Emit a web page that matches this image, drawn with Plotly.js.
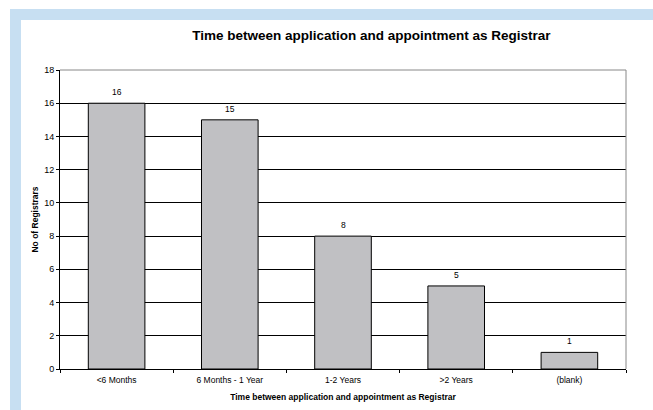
<!DOCTYPE html>
<html><head><meta charset="utf-8">
<script src="https://cdn.plot.ly/plotly-3.0.1.min.js"></script>
<style>
html,body{margin:0;padding:0;background:#fff;width:653px;height:410px;overflow:hidden;}
#band{position:absolute;left:10px;top:9px;width:643px;height:401px;background:#C7DFF2;}
#chart{position:absolute;left:21px;top:20px;width:632px;height:390px;background:#fff;}
</style></head>
<body>
<div id="band"></div>
<div id="chart"></div>
<script>
var categories = ["<6 Months", "6 Months - 1 Year", "1-2 Years", ">2 Years", "(blank)"];
var counts = [16, 15, 8, 5, 1];
var yTicks = [0, 2, 4, 6, 8, 10, 12, 14, 16, 18];

var font = "Liberation Sans, Arial, sans-serif";
var trace = {
  type: "bar",
  x: categories,
  y: counts,
  width: 0.5,
  marker: {color: "#C0C0C3", line: {color: "#000", width: 1}},
  hoverinfo: "none"
};
var labels = categories.map(function (c, i) {
  return {x: c, y: counts[i], xref: "x", yref: "y", text: String(counts[i]),
          showarrow: false, yanchor: "bottom", yshift: 4,
          font: {family: font, size: 8.5, color: "#000"}};
});
var layout = {
  width: 632, height: 390,
  margin: {l: 39, r: 27, t: 50, b: 41},
  paper_bgcolor: "#fff", plot_bgcolor: "#fff",
  showlegend: false,
  title: {text: "<b>Time between application and appointment as Registrar</b>",
          font: {family: font, size: 13.5, color: "#000"},
          x: 0.55, xanchor: "center", y: 1 - 15/390, yanchor: "middle", xref: "paper", yref: "container"},
  xaxis: {
    type: "category",
    showgrid: false, zeroline: false,
    showline: true, linecolor: "#000", linewidth: 1,
    ticks: "outside", ticklen: 3, tickcolor: "#000", tickson: "boundaries",
    ticklabelstandoff: 3,
    tickfont: {family: font, size: 8.5, color: "#000"},
    title: {text: "<b>Time between application and appointment as Registrar</b>",
            font: {family: font, size: 8.5, color: "#000"}, standoff: 9}
  },
  yaxis: {
    range: [0, 18], tickvals: yTicks, ticktext: yTicks.map(String),
    showgrid: true, gridcolor: "#000", gridwidth: 1,
    zeroline: false,
    showline: true, linecolor: "#000", linewidth: 1,
    ticks: "outside", ticklen: 3, tickcolor: "#000",
    tickfont: {family: font, size: 9, color: "#000"},
    title: {text: "<b>No of Registrars</b>", font: {family: font, size: 8.5, color: "#000"}, standoff: 4}
  },
  annotations: labels,
  shapes: [
    {type: "line", xref: "paper", yref: "paper", x0: 0, x1: 1, y0: 1, y1: 1, line: {color: "#888", width: 1}},
    {type: "line", xref: "paper", yref: "paper", x0: 1, x1: 1, y0: 0, y1: 1, line: {color: "#888", width: 1}}
  ]
};
Plotly.newPlot("chart", [trace], layout, {displayModeBar: false, staticPlot: true});
</script>
</body></html>
